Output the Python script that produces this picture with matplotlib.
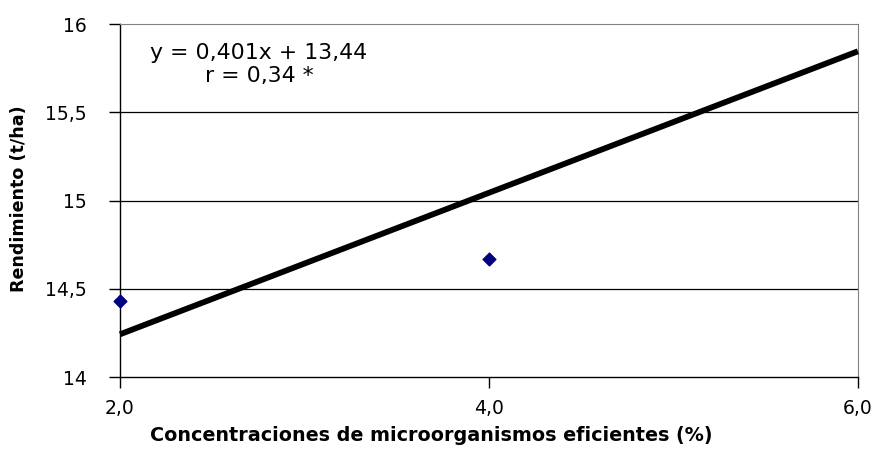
import matplotlib
matplotlib.use("Agg")
import matplotlib.pyplot as plt
import numpy as np

plt.rcParams['font.family'] = ['DejaVu Sans']

# Observed yields by EM concentration
concentracion = [2.0, 4.0]
rendimiento = [14.43, 14.67]

# Fitted linear trend
pendiente = 0.401
intercepto = 13.44
x_tendencia = [2.0, 6.0]

x_ticks = [2.0, 4.0, 6.0]
x_ticklabels = ["2,0", "4,0", "6,0"]
y_ticks = [14, 14.5, 15, 15.5, 16]
y_ticklabels = ["14", "14,5", "15", "15,5", "16"]

fig = plt.figure(figsize=(8.79, 4.55), dpi=100)
ax = fig.add_axes([0.1365, 0.1714, 0.8395, 0.7756])

ax.set_xlim(2, 6)
ax.set_ylim(14, 16)

for yv in y_ticks[1:-1]:
    ax.axhline(yv, color="black", lw=0.9, zorder=1)

xt = np.array(x_tendencia)
ax.plot(xt, pendiente * xt + intercepto, color="black", lw=4.2,
        solid_capstyle="butt", zorder=3, clip_on=False)
ax.scatter(concentracion, rendimiento, marker="D", s=42, color="#000080",
           zorder=4, clip_on=False)

ax.set_xticks(x_ticks)
ax.set_xticklabels(x_ticklabels, fontsize=13.5)
ax.set_yticks(y_ticks)
ax.set_yticklabels(y_ticklabels, fontsize=13.5)
ax.tick_params(axis="both", direction="out", length=8, width=1, color="black")
ax.tick_params(axis="y", pad=16)
ax.tick_params(axis="x", pad=8)

ax.spines["left"].set_color("black")
ax.spines["bottom"].set_color("black")
ax.spines["left"].set_linewidth(1.0)
ax.spines["bottom"].set_linewidth(1.0)
ax.spines["top"].set_color("#808080")
ax.spines["right"].set_color("#808080")

ax.set_xlabel("Concentraciones de microorganismos eficientes (%)", fontsize=13.8,
              fontweight="bold")
ax.xaxis.set_label_coords((431 - 120) / 738, -0.138)
ax.set_ylabel("Rendimiento (t/ha)", fontsize=12.6, fontweight="bold")
ax.yaxis.set_label_coords(-0.124, 0.505)

ax.text(0.0405, 0.918, "y = 0,401x + 13,44", transform=ax.transAxes,
        fontsize=15.8, ha="left", va="center")
ax.text(0.115, 0.853, "r = 0,34 *", transform=ax.transAxes,
        fontsize=15.8, ha="left", va="center")

fig.savefig("out.png", dpi=100)
